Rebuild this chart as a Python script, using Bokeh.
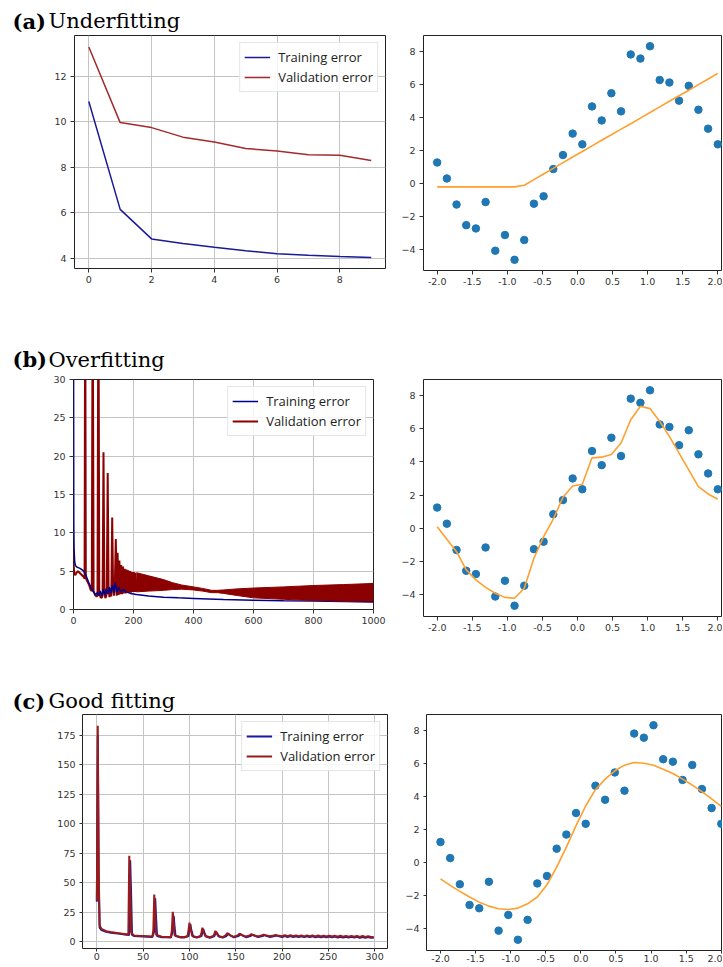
from bokeh.plotting import figure
from bokeh.models import Range1d, FixedTicker, Legend, LegendItem, NumeralTickFormatter
from bokeh.layouts import column, row
from bokeh.core.properties import value
from bokeh.embed import file_html
from bokeh.resources import INLINE

# ---------------- data ----------------
panel_letters = ["(a)", "(b)", "(c)"]
panel_titles = ["Underfitting", "Overfitting", "Good fitting"]
legend_labels = ["Training error", "Validation error"]

# (a) underfitting loss curves
under_epochs = [0, 1, 2, 3, 4, 5, 6, 7, 8, 9]
under_train = [10.9, 6.15, 4.85, 4.65, 4.48, 4.33, 4.2, 4.13, 4.07, 4.03]
under_val = [13.3, 9.97, 9.75, 9.33, 9.12, 8.83, 8.72, 8.55, 8.53, 8.3]

# scatter data (same in all right-hand panels)
scatter_x = [-2.0, -1.862, -1.724, -1.586, -1.448, -1.310, -1.172, -1.034, -0.897, -0.759,
             -0.621, -0.483, -0.345, -0.207, -0.069, 0.069, 0.207, 0.345, 0.483, 0.621,
             0.759, 0.897, 1.034, 1.172, 1.310, 1.448, 1.586, 1.724, 1.862, 2.0]
scatter_y = [1.25, 0.28, -1.3, -2.55, -2.75, -1.15, -4.1, -3.15, -4.65, -3.45,
             -1.25, -0.8, 0.85, 1.7, 3.0, 2.35, 4.65, 3.8, 5.45, 4.35,
             7.8, 7.55, 8.3, 6.25, 6.1, 5.0, 5.9, 4.45, 3.3, 2.35]

# model predictions at scatter_x
under_fit_y = [-0.23, -0.23, -0.23, -0.23, -0.23, -0.23, -0.23, -0.23, -0.23, -0.13,
               0.21, 0.55, 0.89, 1.24, 1.58, 1.92, 2.26, 2.60, 2.93, 3.27,
               3.60, 3.94, 4.28, 4.62, 4.96, 5.30, 5.63, 5.97, 6.31, 6.65]
over_fit_y = [0.1, -0.65, -1.4, -2.5, -3.1, -3.55, -3.9, -4.15, -4.2, -3.6,
              -1.8, -0.5, 0.56, 1.87, 2.55, 2.65, 4.24, 4.28, 4.44, 5.13,
              6.53, 7.34, 7.2, 6.43, 5.53, 4.52, 3.52, 2.51, 2.07, 1.75]
good_fit_y = [-0.97, -1.37, -1.73, -2.07, -2.38, -2.62, -2.78, -2.82, -2.74, -2.48,
              -2.07, -1.33, -0.27, 0.94, 2.24, 3.44, 4.41, 5.05, 5.55, 5.89,
              6.05, 6.01, 5.89, 5.65, 5.39, 5.05, 4.69, 4.29, 3.85, 3.4]

# (b) overfitting loss curves
over_train_epochs = [0, 1, 2, 4, 7, 12, 20, 28, 34, 40, 46, 52, 58, 63, 68, 74, 79, 84, 89, 94,
                     99, 104, 109, 114, 119, 124, 129, 134, 139, 144, 150, 158, 166, 175, 190,
                     210, 250, 300, 350, 400, 500, 600, 700, 800, 900, 1000]
over_train = [40, 11, 7.8, 6.2, 5.7, 5.5, 5.4, 5.2, 5.0, 4.6, 4.0, 3.4, 2.9, 2.5, 2.2, 1.9, 2.2, 1.8, 2.4, 1.8,
              2.6, 1.9, 2.7, 2.0, 2.9, 2.1, 3.2, 2.2, 3.5, 2.2, 2.9, 2.3, 2.6, 2.3, 2.1,
              1.95, 1.75, 1.6, 1.52, 1.45, 1.32, 1.22, 1.15, 1.1, 1.05, 1.0]

over_val_epochs = [0, 1, 3, 6, 10, 15, 20, 25, 30, 35, 37, 39, 41, 43, 47, 52, 57, 61, 64, 67,
                   72, 77, 80, 83, 86, 90, 94, 97, 100, 103, 106, 109, 111, 114, 117, 120, 123, 126,
                   129, 132, 135, 138, 141, 144, 147, 150, 153, 156, 159, 162, 165, 168, 171, 174,
                   177, 180, 183, 186, 189, 192, 195, 198, 201, 204, 207, 210]
over_val = [7.8, 5.5, 4.6, 4.5, 4.8, 5.0, 4.8, 4.6, 4.4, 4.2, 4.0, 45, 4.2, 3.9, 3.6, 3.2, 2.6, 2.4, 45, 2.4,
            1.9, 1.7, 1.8, 45, 2.2, 1.6, 1.5, 1.8, 20.5, 2.4, 1.5, 1.7, 2.6, 17.8, 2.6, 1.6, 2.8, 1.7,
            12.0, 2.8, 1.8, 3.5, 9.2, 1.8, 7.4, 1.9, 6.4, 2.0, 5.8, 2.0, 5.6, 2.1, 5.3, 2.1,
            5.2, 2.2, 5.1, 2.2, 5.0, 2.2, 4.9, 2.3, 4.9, 2.3, 4.8, 2.3]
# dense oscillation of the validation error, read as its upper / lower envelope
over_band_epochs = [210, 250, 300, 330, 360, 400, 430, 460, 480, 500, 550, 600, 700, 800, 900, 1000]
over_band_upper = [4.8, 4.4, 3.9, 3.5, 3.2, 2.95, 2.75, 2.5, 2.5, 2.55, 2.7, 2.8, 2.95, 3.13, 3.25, 3.4]
over_band_lower = [2.3, 2.4, 2.5, 2.6, 2.65, 2.55, 2.4, 2.2, 2.2, 2.1, 1.8, 1.52, 1.33, 1.17, 1.05, 0.96]

# (c) good fitting loss curves
good_train_epochs = [0, 1, 2, 3, 5, 10, 15, 20, 25, 30, 35, 36, 37, 38, 40, 45, 50, 55, 60, 62,
                     63, 64, 65, 70, 75, 80, 82, 83, 84, 85, 90, 95, 99, 100, 101, 102, 104, 108,
                     113, 114, 115, 116, 118, 122, 127, 128, 129, 130, 132, 136, 140, 142, 144, 148,
                     153, 155, 157, 161, 166, 168, 170, 174, 179, 181, 183, 187, 192, 194, 196, 200,
                     203, 206, 209, 212, 215, 218, 221, 224, 227, 230, 233, 236, 239, 242, 245, 248,
                     251, 254, 257, 260, 263, 266, 269, 272, 275, 278, 281, 284, 287, 290, 293, 296, 299]
good_train = [34, 175, 50, 12, 10, 8.5, 7.8, 7.3, 6.8, 6.2, 5.8, 69, 40, 6, 5, 4.8, 4.6, 4.4, 4.2, 9,
              37, 20, 5, 4, 3.9, 3.8, 9, 22, 12, 5, 3.8, 3.8, 5, 10, 15, 10, 4.5, 3.6,
              5, 8, 11, 8, 4.5, 3.5, 5, 7, 8.5, 7, 4.5, 3.6, 5, 7, 5.5, 3.8,
              5, 6.5, 5.5, 4, 5, 6, 5.3, 4.1, 5, 5.7, 5.1, 4.2, 4.9, 5.4, 4.9, 4.2,
              4.9, 4.2, 4.9, 4.1, 4.8, 4.1, 4.8, 4.0, 4.7, 4.0, 4.7, 3.9, 4.6, 3.9, 4.6, 3.8,
              4.5, 3.8, 4.5, 3.7, 4.4, 3.7, 4.4, 3.6, 4.3, 3.6, 4.3, 3.5, 4.2, 3.5, 4.1, 3.4, 3.5]

good_val_epochs = [0, 1, 2, 3, 5, 10, 15, 20, 25, 30, 34, 35, 36, 37, 40, 45, 50, 55, 60, 61,
                   62, 63, 64, 70, 75, 80, 81, 82, 83, 84, 90, 95, 98, 99, 100, 101, 103, 108,
                   112, 113, 114, 115, 117, 122, 126, 127, 128, 129, 131, 136, 139, 141, 143, 148,
                   152, 154, 156, 161, 165, 167, 169, 174, 178, 180, 182, 187, 191, 193, 195, 200,
                   203, 206, 209, 212, 215, 218, 221, 224, 227, 230, 233, 236, 239, 242, 245, 248,
                   251, 254, 257, 260, 263, 266, 269, 272, 275, 278, 281, 284, 287, 290, 293, 296, 299]
good_val = [35, 183, 60, 14, 11, 9, 8.3, 7.8, 7.2, 6.6, 6.0, 73, 45, 8, 5.5, 5.2, 5.0, 4.8, 4.6, 10,
            40, 25, 6, 4.4, 4.2, 4.2, 10, 25.5, 15, 5.5, 4.2, 4.1, 5, 10, 16.3, 12, 5, 4,
            5, 8, 12, 9, 5, 4, 5, 7, 9.3, 8, 5, 4, 5.5, 7.5, 6, 4.3,
            5.5, 7, 6, 4.5, 5.5, 6.6, 5.8, 4.6, 5.5, 6.2, 5.6, 4.7, 5.4, 5.9, 5.4, 4.8,
            5.6, 4.8, 5.6, 4.8, 5.5, 4.8, 5.5, 4.7, 5.5, 4.7, 5.4, 4.6, 5.4, 4.6, 5.3, 4.5,
            5.3, 4.5, 5.2, 4.4, 5.2, 4.4, 5.1, 4.3, 5.1, 4.3, 5.0, 4.2, 5.0, 4.2, 4.9, 4.1, 4.2]

# ticks
under_xticks = [0, 2, 4, 6, 8]
under_yticks = [4, 6, 8, 10, 12]
over_xticks = [0, 200, 400, 600, 800, 1000]
over_yticks = [0, 5, 10, 15, 20, 25, 30]
good_xticks = [0, 50, 100, 150, 200, 250, 300]
good_yticks = [0, 25, 50, 75, 100, 125, 150, 175]
fit_xticks = [-2.0, -1.5, -1.0, -0.5, 0.0, 0.5, 1.0, 1.5, 2.0]
fit_yticks = [-4, -2, 0, 2, 4, 6, 8]

# ---------------- styling helpers ----------------
TRAIN_COLOR = "#1a1a96"
VAL_COLOR_A = "#a52a2a"
VAL_COLOR_B = "#8b0000"
VAL_COLOR_C = "#9a1a1a"
DOT_COLOR = "#1f77b4"
FIT_COLOR = "#ff9f2e"
LEFT_W = 395


def make_fig(fw, fh, bl, br, bt, bb, xr, yr, xt, yt, grid, small_bottom=False, xfmt=None):
    p = figure(frame_width=fw, frame_height=fh, x_range=Range1d(xr[0], xr[1]),
               y_range=Range1d(yr[0], yr[1]), toolbar_location=None, output_backend="svg",
               min_border_left=bl, min_border_right=br, min_border_top=bt, min_border_bottom=bb)
    p.outline_line_color = "#222222"
    p.outline_line_width = 1
    p.border_fill_color = "white"
    p.xaxis.ticker = FixedTicker(ticks=xt)
    p.yaxis.ticker = FixedTicker(ticks=yt)
    if xfmt is not None:
        p.xaxis.formatter = xfmt
    for ax in p.axis:
        ax.axis_line_color = None
        ax.major_tick_line_color = "#333333"
        ax.major_tick_out = 3 if small_bottom else 4
        ax.major_tick_in = 0
        ax.minor_tick_line_color = None
        ax.major_label_text_font = "DejaVu Sans"
        ax.major_label_text_font_size = "9.5px"
        ax.major_label_text_color = "#333333"
    p.xaxis.major_label_standoff = 1 if small_bottom else 3
    p.yaxis.major_label_standoff = 4
    if grid:
        p.xgrid.ticker = FixedTicker(ticks=xt)
        p.ygrid.ticker = FixedTicker(ticks=yt)
        p.grid.grid_line_color = "#c4c4c4"
        p.grid.grid_line_width = 1
    else:
        p.grid.grid_line_color = None
    return p


def add_legend(p, r_train, r_val):
    leg = Legend(items=[LegendItem(label=legend_labels[0], renderers=[r_train]),
                        LegendItem(label=legend_labels[1], renderers=[r_val])],
                 location="top_right", margin=7, padding=4, spacing=0,
                 glyph_width=26, glyph_height=20, label_height=20, label_standoff=8,
                 label_text_font="Open Sans", label_text_font_size="13px",
                 label_text_color="#222222", border_line_color="#cccccc",
                 background_fill_alpha=0.85)
    p.add_layout(leg)


def title_strip(i, h, mid):
    p = figure(width=LEFT_W, height=h, x_range=Range1d(0, LEFT_W), y_range=Range1d(0, h),
               toolbar_location=None, output_backend="svg", x_axis_type=None, y_axis_type=None,
               title=None, min_border_left=0, min_border_right=0, min_border_top=0,
               min_border_bottom=0)
    p.outline_line_color = None
    p.grid.grid_line_color = None
    p.text(x=[12], y=[mid], text=[panel_letters[i]], text_font=value("DejaVu Serif"),
           text_font_style="bold", text_font_size="21px", text_color="black",
           text_baseline=value("middle"), text_align=value("left"))
    p.text(x=[48], y=[mid], text=[panel_titles[i]], text_font=value("DejaVu Serif"),
           text_font_size="21px", text_color="black",
           text_baseline=value("middle"), text_align=value("left"))
    return p


def fit_panel(fw, fh, bl, bt, bb, xr, fit_y, small_bottom=False):
    p = make_fig(fw, fh, bl, 0, bt, bb, xr, (-5.3, 8.95), fit_xticks, fit_yticks, False,
                 small_bottom, NumeralTickFormatter(format="0.0"))
    p.scatter(scatter_x, scatter_y, size=7.5, color=DOT_COLOR)
    p.line(scatter_x, fit_y, color=FIT_COLOR, line_width=1.6)
    return p


# ---------------- row (a) ----------------
sa = title_strip(0, 33, 12.5)
pa = make_fig(311, 233, 74, 10, 2, 79, (-0.456, 9.456), (3.547, 13.805),
              under_xticks, under_yticks, True)
ra1 = pa.line(under_epochs, under_train, color=TRAIN_COLOR, line_width=1.5)
ra2 = pa.line(under_epochs, under_val, color=VAL_COLOR_A, line_width=1.5)
add_legend(pa, ra1, ra2)
fa = fit_panel(299, 235, 28, 0, 79, (-2.195, 2.067), under_fit_y)

# ---------------- row (b) ----------------
sb = title_strip(1, 24, 12)
pb = make_fig(300, 230, 73, 22, 8, 79, (0, 1000), (0, 30), over_xticks, over_yticks, True)
pb.varea(x=over_band_epochs, y1=over_band_lower, y2=over_band_upper, fill_color=VAL_COLOR_B)
rb2 = pb.line(over_val_epochs, over_val, color=VAL_COLOR_B, line_width=2)
rb1 = pb.line(over_train_epochs, over_train, color="#00008b", line_width=1.5)
pb.line(over_band_epochs, over_band_upper, color=VAL_COLOR_B, line_width=1)
pb.line(over_band_epochs, over_band_lower, color=VAL_COLOR_B, line_width=1)
add_legend(pb, rb1, rb2)
fb = fit_panel(299, 237, 28, 0, 80, (-2.195, 2.067), over_fit_y)

# ---------------- row (c) ----------------
sc = title_strip(2, 24, 11.5)
pc = make_fig(305, 234, 82, 8, 2, 18, (-15.5, 313.9), (-5.6, 192.5),
              good_xticks, good_yticks, True, small_bottom=True)
rc1 = pc.line(good_train_epochs, good_train, color="#1a1aa0", line_width=2)
rc2 = pc.line(good_val_epochs, good_val, color=VAL_COLOR_C, line_width=2)
add_legend(pc, rc1, rc2)
fc = fit_panel(296, 236, 31, 0, 18, (-2.199, 2.017), good_fit_y, small_bottom=True)

layout = column(sa, row(pa, fa), sb, row(pb, fb), sc, row(pc, fc))

open("out.html", "w").write(file_html(layout, INLINE))
